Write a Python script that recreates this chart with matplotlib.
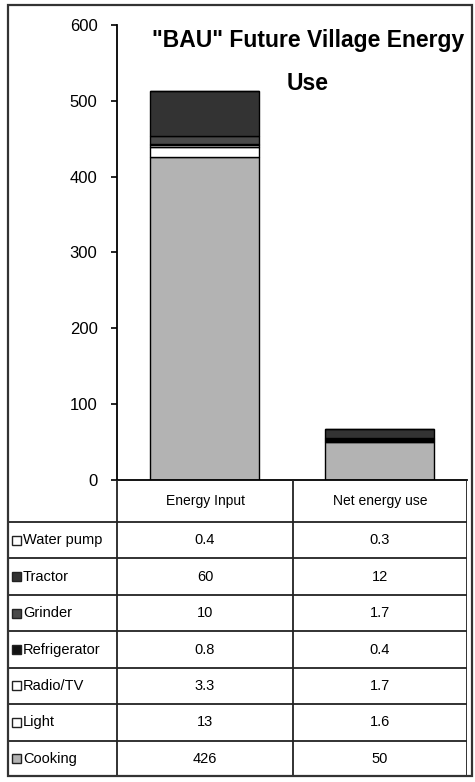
import matplotlib
matplotlib.use("Agg")
import matplotlib.pyplot as plt
from matplotlib import font_manager
from matplotlib.patches import Rectangle

# stacked energy use per end use (bottom of the stack first)
uses = ["Cooking", "Light", "Radio/TV", "Refrigerator", "Grinder", "Tractor", "Water pump"]
energy_input = [426, 13, 3.3, 0.8, 10, 60, 0.4]
net_energy_use = [50, 1.6, 1.7, 0.4, 1.7, 12, 0.3]
input_labels = ["426", "13", "3.3", "0.8", "10", "60", "0.4"]
net_labels = ["50", "1.6", "1.7", "0.4", "1.7", "12", "0.3"]
colors = ["#b3b3b3", "#ffffff", "#ffffff", "#111111", "#4a4a4a", "#333333", "#ffffff"]

categories = ["Energy Input", "Net energy use"]
yticks = [0, 100, 200, 300, 400, 500, 600]
title = '"BAU" Future Village Energy\nUse'

installed = {f.name for f in font_manager.fontManager.ttflist}
narrow = "Liberation Sans Narrow" if "Liberation Sans Narrow" in installed else "Liberation Sans"
plt.rcParams["font.family"] = [narrow, "DejaVu Sans"]

W, H = 475, 782
fig = plt.figure(figsize=(W / 100, H / 100), dpi=100)

# outer chart frame
fig.patches.append(Rectangle((8 / W, 1 - 776 / H), 464 / W, 771 / H,
                             transform=fig.transFigure, fill=False,
                             edgecolor="#333333", linewidth=1.6))

ax = fig.add_axes([117 / W, 1 - 480 / H, 350 / W, 455 / H])
x = [0.5, 1.5]
series = list(zip(*[energy_input, net_energy_use]))
bottom = [0.0, 0.0]
for vals, c in zip(series, colors):
    ax.bar(x, vals, width=0.62, bottom=bottom, color=c, edgecolor="black", linewidth=1.0)
    bottom = [b + v for b, v in zip(bottom, vals)]

ax.set_xlim(0, 2)
ax.set_ylim(0, 600)
ax.set_yticks(yticks)
ax.set_yticklabels([str(t) for t in yticks], fontsize=12)
ax.set_xticks([])
for side in ("top", "right"):
    ax.spines[side].set_visible(False)
ax.spines["left"].set_linewidth(1.3)
ax.spines["bottom"].set_linewidth(1.3)
ax.tick_params(axis="y", length=4, width=1.2, pad=10)

ax.text(1.09, 595, title, ha="center", va="top", fontsize=16.5, fontweight="bold",
        linespacing=2.1)

# data table under the bars, laid out in pixel units
tab = fig.add_axes([8 / W, 1 - 777 / H, 459 / W, 297 / H])
tab.set_xlim(8, 467)
tab.set_ylim(777, 480)
tab.axis("off")

col_x = [8, 117, 293, 467]
row_y = [480, 522] + [522 + 36.43 * (i + 1) for i in range(len(uses))]
lw = 1.3
tab.vlines(col_x[1:], row_y[0], row_y[-1], color="#222222", linewidth=lw)
tab.vlines(col_x[0], row_y[1], row_y[-1], color="#222222", linewidth=lw)
tab.hlines(row_y[1:], col_x[0], col_x[-1], color="#222222", linewidth=lw)

for j, name in enumerate(categories):
    tab.text((col_x[j + 1] + col_x[j + 2]) / 2, (row_y[0] + row_y[1]) / 2, name,
             ha="center", va="center", fontsize=10)

# table rows run top-down, i.e. reverse of stack order
order = list(range(len(uses)))[::-1]
for r, k in enumerate(order):
    yc = (row_y[r + 1] + row_y[r + 2]) / 2
    tab.add_patch(Rectangle((12, yc - 4.5), 9, 9, facecolor=colors[k],
                            edgecolor="#222222", linewidth=1.0))
    tab.text(23, yc, uses[k], ha="left", va="center", fontsize=10.5)
    tab.text((col_x[1] + col_x[2]) / 2, yc, input_labels[k], ha="center", va="center", fontsize=10.5)
    tab.text((col_x[2] + col_x[3]) / 2, yc, net_labels[k], ha="center", va="center", fontsize=10.5)

fig.savefig("out.png", dpi=100)
